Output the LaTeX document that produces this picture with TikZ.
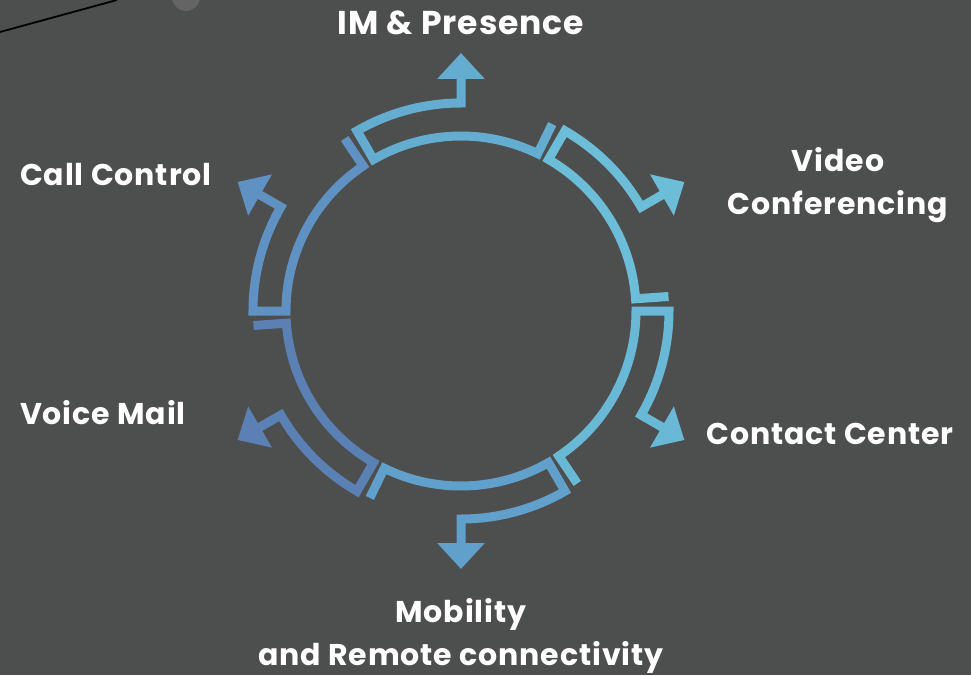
\documentclass[tikz,border=0pt]{standalone}
\usepackage{fontspec}
\setmainfont{Poppins}
\usetikzlibrary{arrows.meta}

\definecolor{bgcol}{RGB}{77,78,78}
\definecolor{segIM}{RGB}{101,173,208}
\definecolor{segVC}{RGB}{107,189,216}
\definecolor{segCC}{RGB}{104,184,214}
\definecolor{segMR}{RGB}{97,160,202}
\definecolor{segVM}{RGB}{91,128,179}
\definecolor{segCL}{RGB}{95,145,194}

\tikzset{
  ringarrow/.style={line width=9pt, -{Triangle[width=46pt,length=26pt]}},
  lbl/.style={text=white, inner sep=0pt, align=center,
    font=\fontsize{30}{43}\selectfont\bfseries\addfontfeatures{LetterSpace=3}},
}

\begin{document}
\begin{tikzpicture}[x=1pt,y=1pt]
  \useasboundingbox (-461,-364) rectangle (510,311);
  \fill[bgcol] (-461,-364) rectangle (510,311);
  % wire and lamp in the corner
  \draw[black, line width=1.8pt] (-461,279) -- (-344,311);
  \fill[gray!45!bgcol] (-275,314) circle (14);
  % the ring of arrows
  \foreach \a/\c [evaluate=\a as \s using \a+30,
                  evaluate=\a as \e using \a-26] in
      {90/segIM, 30/segVC, -30/segCC, -90/segMR, -150/segVM, 150/segCL}
    \draw[ringarrow, \c] (\e:208) -- (\e:175)
      arc[start angle=\e, end angle=\s, radius=175]
      -- (\s:208)
      arc[start angle=\s, end angle=\a, radius=208]
      -- (\a:258);
  % labels
  \node[lbl, anchor=base, font=\fontsize{33}{43}\selectfont\bfseries\addfontfeatures{LetterSpace=3}] (im) at (0,276) {IM \& Presence};
  \node[lbl, anchor=base] (vc) at (377,97) {Video\\Conferencing};
  \node[lbl, anchor=base] (cc) at (369,-133) {Contact Center};
  \node[lbl, anchor=base] (mr) at (0,-354) {Mobility\\and Remote connectivity};
  \node[lbl, anchor=base west] (vm) at (-441,-113) {Voice Mail};
  \node[lbl, anchor=base west] (cl) at (-441,126) {Call Control};
\end{tikzpicture}
\end{document}
